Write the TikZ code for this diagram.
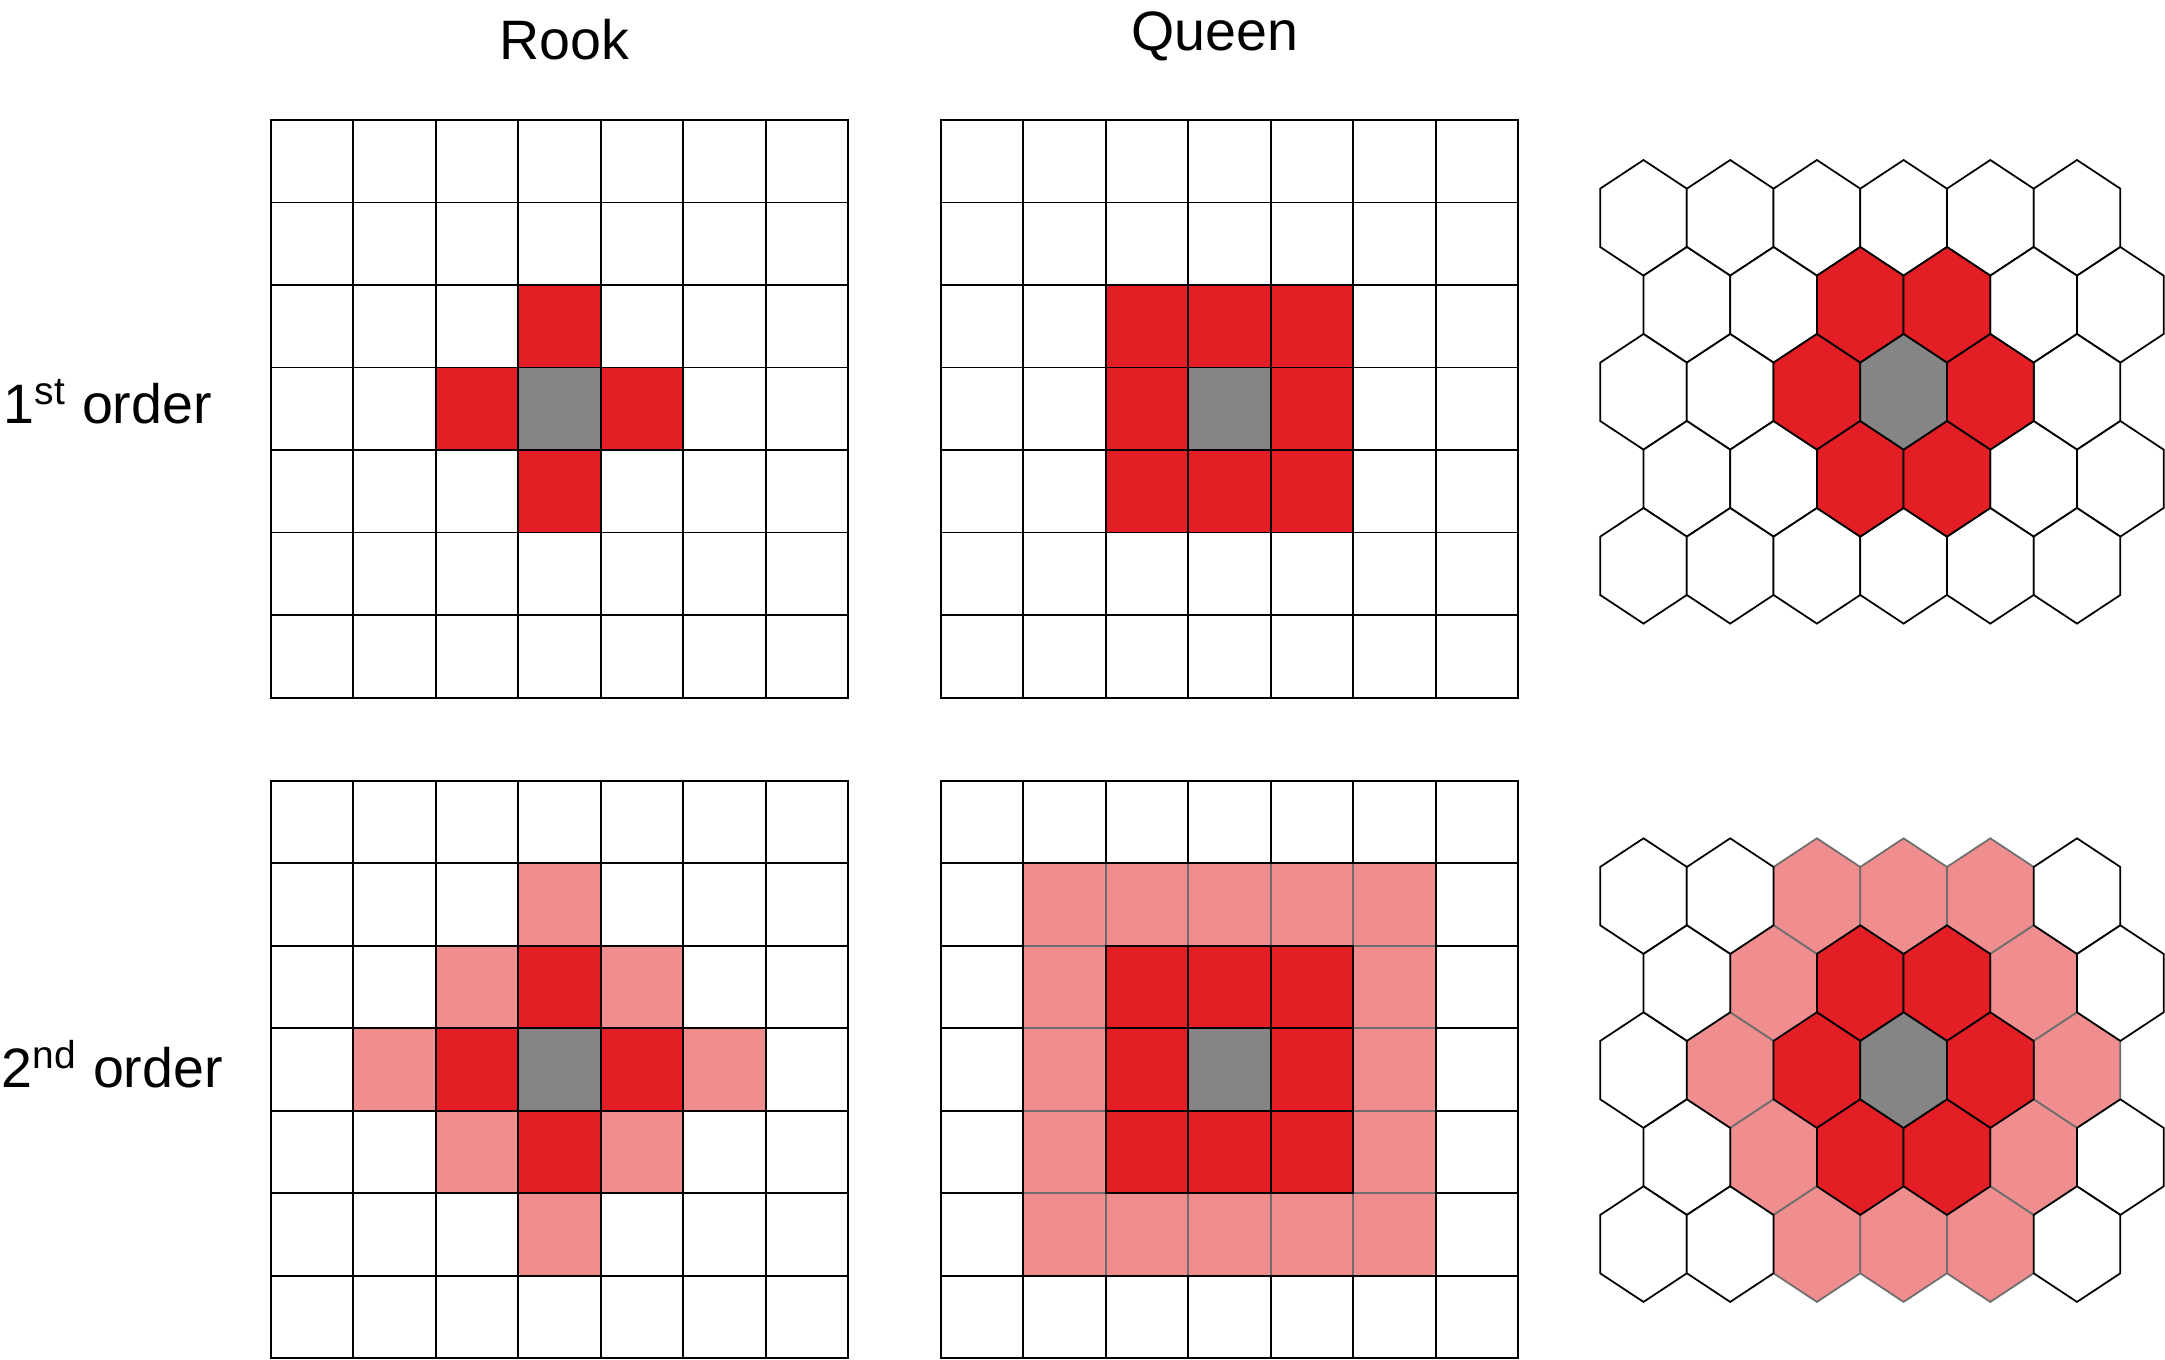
\documentclass[tikz,border=0pt]{standalone}
\usepackage{fontspec}
\setmainfont{Liberation Sans}
\definecolor{NbRed}{HTML}{E31E24}
\definecolor{NbPink}{HTML}{F08E8F}
\definecolor{NbGray}{HTML}{858585}
\definecolor{PinkEdge}{HTML}{6E6E6E}

% colours of one cell from its class (0 centre, 1 first ring, 2 second ring, 9 outside)
\newcommand{\setcellcolours}[1]{%
  \ifcase#1 \def\cellfill{NbGray}\def\celledge{black}%
  \or \def\cellfill{NbRed}\def\celledge{black}%
  \or \def\cellfill{NbPink}\def\celledge{PinkEdge}%
  \else \def\cellfill{white}\def\celledge{black}\fi}

% square grid: #1,#2 top left corner, #3 metric (0 rook, 1 queen), #4 order
\newcommand{\sqgrid}[4]{%
  \foreach \p in {2,9,1,0}{
    \foreach \gi in {0,...,6}{
      \foreach \gj in {0,...,6}{
        \pgfmathtruncatemacro{\dd}{#3==0 ? abs(\gi-3)+abs(\gj-3) : max(abs(\gi-3),abs(\gj-3))}
        \pgfmathtruncatemacro{\cls}{\dd>#4 ? 9 : \dd}
        \ifnum\cls=\p
          \setcellcolours{\cls}
          \draw[cell, fill=\cellfill, draw=\celledge] ({#1+\gi*82.5},{#2+\gj*82.5}) rectangle ++(82.5,82.5);
        \fi
      }}}}

% hex grid: #1,#2 centre of the first hexagon, #3 order
\newcommand{\hexgrid}[3]{%
  \foreach \p in {2,9,1,0}{
    \foreach \hr in {0,...,4}{
      \foreach \hc in {0,...,5}{
        \pgfmathtruncatemacro{\qq}{\hc-int(\hr/2)-2}
        \pgfmathtruncatemacro{\rr}{\hr-2}
        \pgfmathtruncatemacro{\dd}{(abs(\qq)+abs(\rr)+abs(\qq+\rr))/2}
        \pgfmathtruncatemacro{\cls}{\dd>#3 ? 9 : \dd}
        \ifnum\cls=\p
          \setcellcolours{\cls}
          \draw[cell, fill=\cellfill, draw=\celledge] ({#1+\hc*86.7+mod(\hr,2)*43.35},{#2+\hr*87})
            +(0,-57.8) -- +(43.35,-29.15) -- +(43.35,29.15) -- +(0,57.8)
            -- +(-43.35,29.15) -- +(-43.35,-29.15) -- cycle;
        \fi
      }}}}

\begin{document}
\begin{tikzpicture}[x=0.01cm, y=-0.01cm,
    cell/.style={line width=0.5pt, line join=miter},
    heading/.style={font=\fontsize{15.8pt}{19pt}\selectfont, inner sep=0pt}]
    \useasboundingbox (0,0) rectangle (2165,1359);

    % Headings
    \node[heading, anchor=base] (rook) at (564,59) {Rook};
    \node[heading, anchor=base] (queen) at (1215,50) {Queen};
    \node[heading, anchor=base west] (first) at (3,423) {1\textsuperscript{st} order};
    \node[heading, anchor=base west] (second) at (1,1087) {2\textsuperscript{nd} order};

    % 1st order
    \sqgrid{270.8}{120.1}{0}{1}
    \sqgrid{940.8}{120.1}{1}{1}
    \hexgrid{1643.5}{217.8}{1}

    % 2nd order
    \sqgrid{270.8}{780.8}{0}{2}
    \sqgrid{940.8}{780.8}{1}{2}
    \hexgrid{1643.5}{896.1}{2}
\end{tikzpicture}
\end{document}
